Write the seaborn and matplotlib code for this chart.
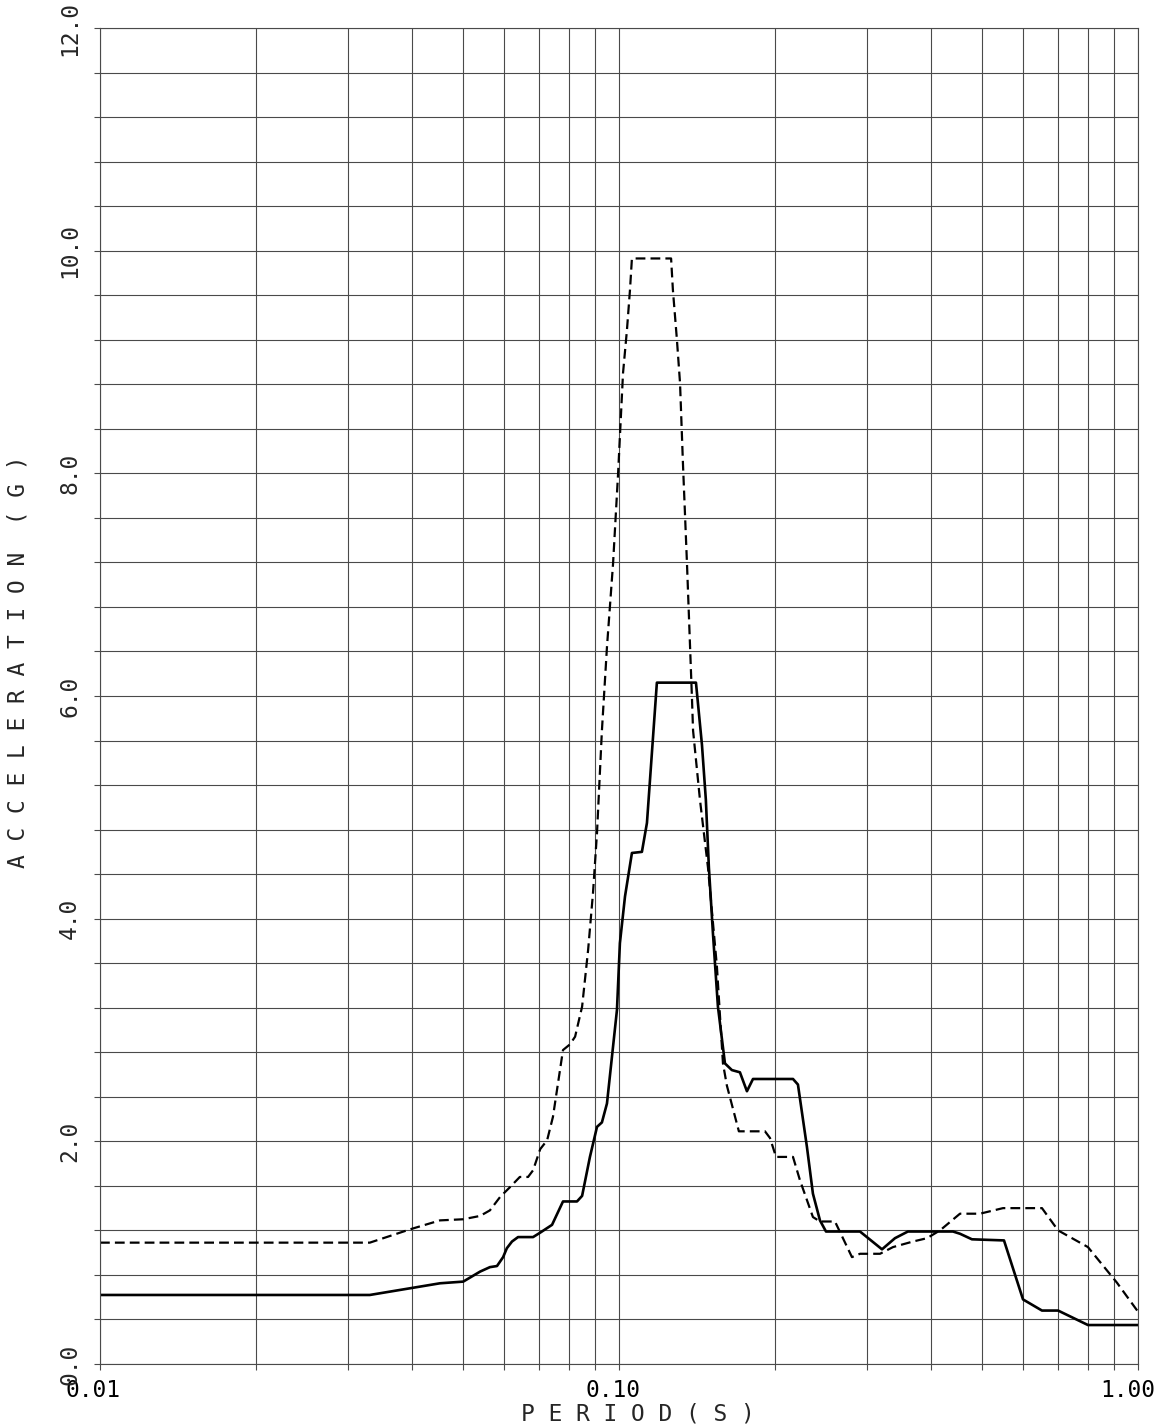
import numpy as np
import pandas as pd
import matplotlib
matplotlib.use("Agg")
import matplotlib.pyplot as plt
import matplotlib.transforms as mtransforms
import seaborn as sns
from matplotlib.ticker import LogLocator, MultipleLocator, NullFormatter, FixedLocator, FixedFormatter

# ---------------- data ----------------
period_solid = [0.0100, 0.0331, 0.0452, 0.0501, 0.0540, 0.0564, 0.0582, 0.0598, 0.0608, 0.0622,
                0.0639, 0.0683, 0.0705, 0.0743, 0.0780, 0.0830, 0.0849, 0.0879, 0.0907, 0.0927,
                0.0948, 0.0991, 0.1004, 0.1027, 0.1059, 0.1107, 0.1132, 0.1183, 0.1407, 0.1445,
                0.1470, 0.1490, 0.1517, 0.1551, 0.1600, 0.1650, 0.1710, 0.1764, 0.1812, 0.2164,
                0.2212, 0.2302, 0.2364, 0.2439, 0.2505, 0.2913, 0.3212, 0.3402, 0.3603, 0.4400,
                0.4539, 0.4787, 0.5518, 0.6004, 0.6531, 0.7015, 0.8009, 1.0000]
acc_solid = [0.62, 0.62, 0.725, 0.74, 0.83, 0.87, 0.88, 0.96, 1.04, 1.10,
             1.14, 1.14, 1.18, 1.25, 1.46, 1.46, 1.51, 1.86, 2.13, 2.17,
             2.34, 3.18, 3.78, 4.20, 4.59, 4.60, 4.86, 6.12, 6.12, 5.56,
             5.07, 4.46, 3.87, 3.21, 2.70, 2.64, 2.62, 2.45, 2.56, 2.56,
             2.51, 1.95, 1.53, 1.29, 1.19, 1.19, 1.03, 1.13, 1.19, 1.19,
             1.17, 1.12, 1.11, 0.58, 0.48, 0.48, 0.35, 0.35]

period_dash = [0.0100, 0.0331, 0.0396, 0.0452, 0.0501, 0.0540, 0.0564, 0.0590, 0.0617, 0.0644,
               0.0668, 0.0683, 0.0705, 0.0727, 0.0746, 0.0780, 0.0804, 0.0823, 0.0849, 0.0872,
               0.0891, 0.0907, 0.0927, 0.0948, 0.0974, 0.0996, 0.1018, 0.1036, 0.1050, 0.1059,
               0.1260, 0.1270, 0.1293, 0.1311, 0.1328, 0.1352, 0.1382, 0.1389, 0.1432, 0.1484,
               0.1544, 0.1586, 0.1614, 0.1702, 0.1911, 0.1954, 0.2007, 0.2164, 0.2232, 0.2364,
               0.2439, 0.2607, 0.2811, 0.2913, 0.3184, 0.3372, 0.3684, 0.3921, 0.4154, 0.4539,
               0.4960, 0.5494, 0.6531, 0.7015, 0.8009, 0.9109, 1.0000]
acc_dash = [1.09, 1.09, 1.21, 1.29, 1.30, 1.33, 1.38, 1.50, 1.59, 1.68,
            1.68, 1.74, 1.93, 2.01, 2.22, 2.82, 2.87, 2.94, 3.21, 3.72,
            4.23, 4.77, 5.69, 6.44, 7.19, 8.00, 8.90, 9.29, 9.65, 9.93,
            9.93, 9.65, 9.20, 8.81, 8.09, 7.19, 5.99, 5.69, 5.07, 4.46,
            3.57, 2.70, 2.50, 2.09, 2.09, 2.03, 1.86, 1.86, 1.65, 1.32,
            1.28, 1.28, 0.96, 0.99, 0.99, 1.05, 1.10, 1.13, 1.20, 1.35,
            1.35, 1.40, 1.40, 1.20, 1.05, 0.73, 0.47]

x_ticks = [0.01, 0.1, 1.0]
x_labels = ["0.01", "0.10", "1.00"]
y_ticks = [0, 2, 4, 6, 8, 10, 12]
y_labels = ["0.0", "2.0", "4.0", "6.0", "8.0", "10.0", "12.0"]
x_title = "P E R I O D ( S )"
y_title = "A C C E L E R A T I O N  ( G )"

# ---------------- style ----------------
sns.set_theme(style="white")
plt.rcParams["font.family"] = ["DejaVu Sans Mono", "DejaVu Sans"]

GRID = "#4a4a4a"
FS = 16.5

fig = plt.figure(figsize=(11.58, 14.28), dpi=100)
ax = fig.add_axes([100 / 1158, 1 - 1364 / 1428, 1038 / 1158, 1336 / 1428])

df_s = pd.DataFrame({"period": period_solid, "acc": acc_solid})
df_d = pd.DataFrame({"period": period_dash, "acc": acc_dash})

sns.lineplot(data=df_s, x="period", y="acc", ax=ax, color="black", linewidth=1.9,
             sort=False, estimator=None)
sns.lineplot(data=df_d, x="period", y="acc", ax=ax, color="black", linewidth=1.6,
             linestyle=(0, (4.4, 2.3)), sort=False, estimator=None)

ax.set_xscale("log")
ax.set_xlim(0.01, 1.0)
ax.set_ylim(0, 12)

ax.xaxis.set_major_locator(FixedLocator(x_ticks))
ax.xaxis.set_major_formatter(FixedFormatter(x_labels))
ax.xaxis.set_minor_locator(LogLocator(base=10, subs=range(2, 10)))
ax.xaxis.set_minor_formatter(NullFormatter())

ax.yaxis.set_major_locator(FixedLocator(y_ticks))
ax.yaxis.set_major_formatter(FixedFormatter(y_labels))
ax.yaxis.set_minor_locator(MultipleLocator(0.4))

ax.grid(which="both", color=GRID, linewidth=0.8)
ax.set_axisbelow(True)
for sp in ax.spines.values():
    sp.set_color(GRID)
    sp.set_linewidth(0.8)

ax.tick_params(which="both", direction="out", length=4.5, width=0.8, color=GRID,
               left=True, bottom=True)
ax.tick_params(axis="x", labelsize=FS, pad=6, colors="black", color=GRID)
ax.tick_params(axis="y", labelsize=FS, pad=9, labelrotation=90)

ax.set_xlabel("")
ax.set_ylabel("")
fig.text(638 / 1158, 1 - 1414 / 1428, x_title, fontsize=FS, ha="center", va="center")
fig.text(18 / 1158, 1 - 662 / 1428, y_title, fontsize=FS, ha="center", va="center",
         rotation=90)

fig.canvas.draw()
for lab in ax.get_yticklabels():
    lab.set_va("center")
    lab.set_ha("right")
xlabs = ax.get_xticklabels()
offsets_px = [-7, -6, -10]
for lab, dx in zip(xlabs, offsets_px):
    lab.set_color("black")
    lab.set_transform(lab.get_transform() +
                      mtransforms.ScaledTranslation(dx / 100, 0, fig.dpi_scale_trans))

fig.savefig("out.png", dpi=100, facecolor="white")
